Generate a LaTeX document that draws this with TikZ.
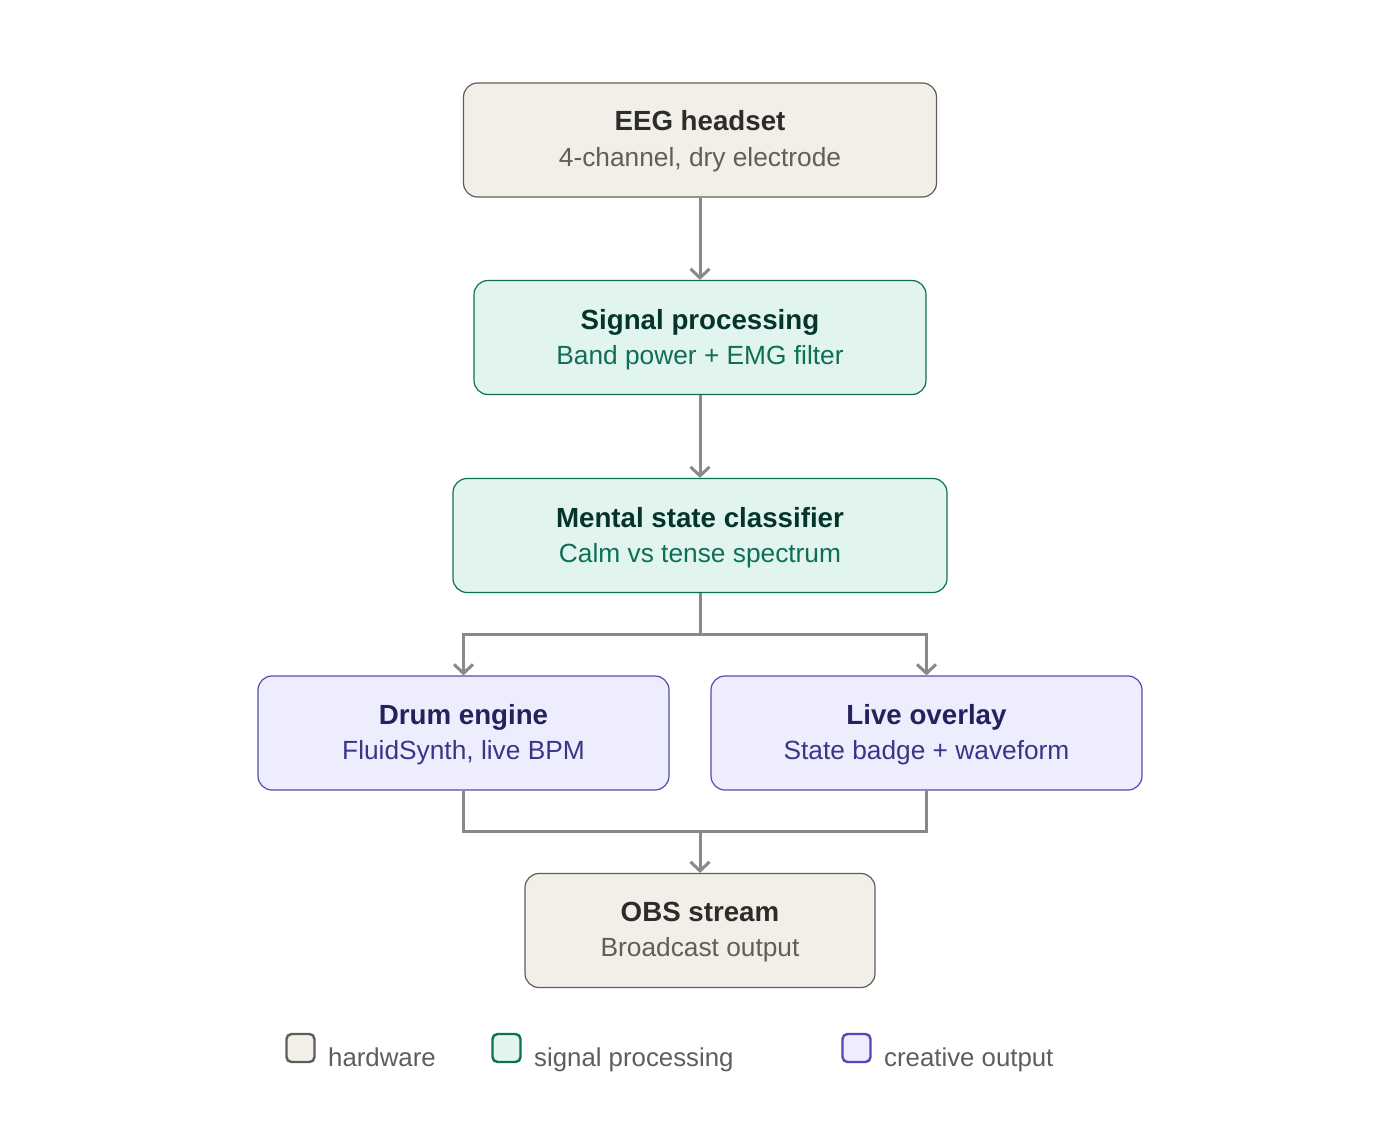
\documentclass[tikz,border=0pt]{standalone}
\usepackage{fontspec}
\setmainfont{Liberation Sans}
\usetikzlibrary{arrows.meta}
\definecolor{hwfill}{HTML}{F1EFE8}
\definecolor{hwdraw}{HTML}{5F5E5A}
\definecolor{hwtitle}{HTML}{2C2C2A}
\definecolor{hwsub}{HTML}{5F5E5A}
\definecolor{spfill}{HTML}{E1F5EE}
\definecolor{spdraw}{HTML}{0F6E56}
\definecolor{sptitle}{HTML}{04342C}
\definecolor{spsub}{HTML}{0F6E56}
\definecolor{crfill}{HTML}{EEEDFE}
\definecolor{crdraw}{HTML}{534AB7}
\definecolor{crtitle}{HTML}{26215C}
\definecolor{crsub}{HTML}{3C3489}
\definecolor{arr}{HTML}{8A8985}
\definecolor{legtext}{HTML}{5F5E5A}
\tikzset{
  box/.style={rectangle, rounded corners=14pt, line width=1.2pt, minimum height=114pt, inner sep=0pt},
  hwbox/.style={box, fill=hwfill, draw=hwdraw},
  spbox/.style={box, fill=spfill, draw=spdraw},
  crbox/.style={box, fill=crfill, draw=crdraw},
  ttl/.style={anchor=base, inner sep=0pt, font=\fontsize{27.7}{32}\selectfont\bfseries},
  sub/.style={anchor=base, inner sep=0pt, font=\fontsize{26.3}{30}\selectfont},
  conn/.style={draw=arr, line width=3pt},
  arrow/.style={conn, -{Straight Barb[length=9pt,width=19pt,line width=3pt]}},
  legsq/.style={rectangle, rounded corners=5pt, line width=2.4pt, minimum width=28pt, minimum height=28pt, inner sep=0pt},
  legtxt/.style={anchor=base west, inner sep=0pt, text=legtext, font=\fontsize{25.8}{30}\selectfont},
}
\begin{document}
\begin{tikzpicture}[x=1pt,y=-1pt]
\useasboundingbox (0,0) rectangle (1400,1145);
\fill[white] (0,0) rectangle (1400,1145);

% boxes
\node[hwbox, minimum width=473pt] (eeg) at (700,140) {};
\node[ttl, text=hwtitle] (eegt) at ([yshift=9pt]eeg.center) {EEG headset};
\node[sub, text=hwsub] (eegs) at ([yshift=-26pt]eeg.center) {4-channel, dry electrode};

\node[spbox, minimum width=452pt] (sig) at (700,337.5) {};
\node[ttl, text=sptitle] (sigt) at ([yshift=8.5pt]sig.center) {Signal processing};
\node[sub, text=spsub] (sigs) at ([yshift=-26.5pt]sig.center) {Band power + EMG filter};

\node[spbox, minimum width=494pt] (cls) at (700,535.5) {};
\node[ttl, text=sptitle] (clst) at ([yshift=8.5pt]cls.center) {Mental state classifier};
\node[sub, text=spsub] (clss) at ([yshift=-26.5pt]cls.center) {Calm vs tense spectrum};

\node[crbox, minimum width=411pt] (drum) at (463.5,733) {};
\node[ttl, text=crtitle] (drumt) at ([yshift=9pt]drum.center) {Drum engine};
\node[sub, text=crsub] (drums) at ([yshift=-26pt]drum.center) {FluidSynth, live BPM};

\node[crbox, minimum width=431pt] (live) at (926.5,733) {};
\node[ttl, text=crtitle] (livet) at ([yshift=9pt]live.center) {Live overlay};
\node[sub, text=crsub] (lives) at ([yshift=-26pt]live.center) {State badge + waveform};

\node[hwbox, minimum width=350pt] (obs) at (700,930.5) {};
\node[ttl, text=hwtitle] (obst) at ([yshift=9pt]obs.center) {OBS stream};
\node[sub, text=hwsub] (obss) at ([yshift=-26pt]obs.center) {Broadcast output};

% connectors
\draw[arrow] (eeg.south) -- (sig.north);
\draw[arrow] (sig.south) -- (cls.north);
\coordinate (split) at (700,634);
\coordinate (merge) at (700,831);
\draw[conn] (cls.south) -- (split);
\draw[arrow] (split) -| (drum.north);
\draw[arrow] (split) -| (live.north);
\draw[conn] (drum.south) |- (merge);
\draw[conn] (live.south) |- (merge);
\draw[arrow] (merge) -- (obs.north);

% legend
\node[legsq, fill=hwfill, draw=hwdraw] (lg1) at (300.5,1048) {};
\node[legtxt] (lg1t) at (328,1066) {hardware};
\node[legsq, fill=spfill, draw=spdraw] (lg2) at (506.5,1048) {};
\node[legtxt] (lg2t) at (534,1066) {signal processing};
\node[legsq, fill=crfill, draw=crdraw] (lg3) at (856.5,1048) {};
\node[legtxt] (lg3t) at (884,1066) {creative output};
\end{tikzpicture}
\end{document}
